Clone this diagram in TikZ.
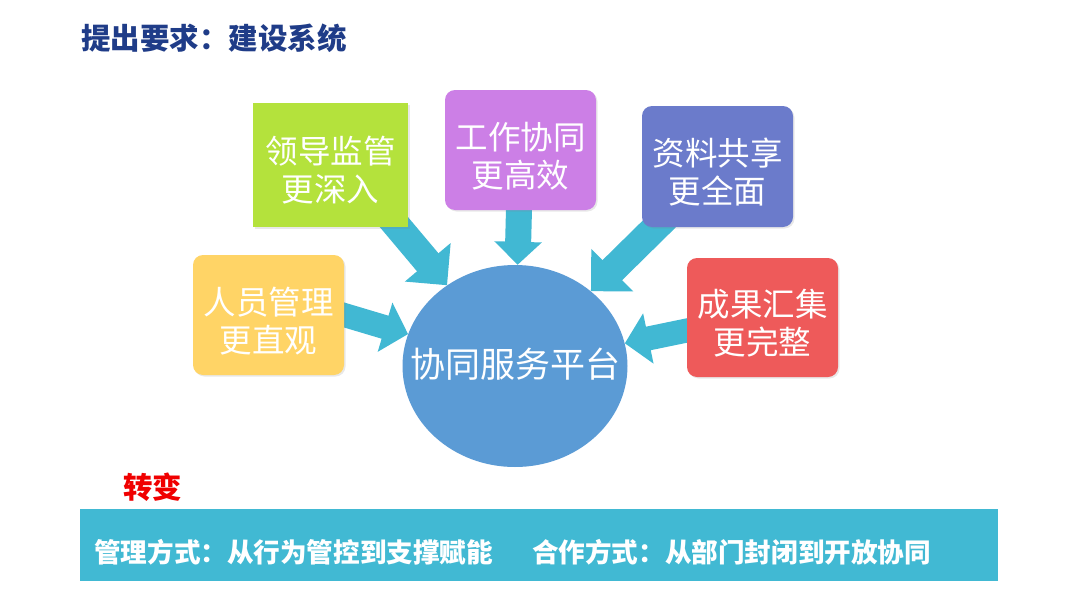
\documentclass[tikz,border=0pt]{standalone}
\usepackage{fontspec}
\setmainfont{Noto Sans CJK SC}
\usetikzlibrary{arrows.meta,shadows,shapes.geometric,backgrounds}
\definecolor{titleblue}{HTML}{1F3C88}
\definecolor{boxgreen}{HTML}{B4E23C}
\definecolor{boxpurple}{HTML}{CC7FE6}
\definecolor{boxviolet}{HTML}{6B7BCB}
\definecolor{boxyellow}{HTML}{FFD466}
\definecolor{boxred}{HTML}{EE5A5A}
\definecolor{hubblue}{HTML}{5B9BD5}
\definecolor{arrowcyan}{HTML}{41B8D3}
\definecolor{bandcyan}{HTML}{41B9D3}
\definecolor{redtext}{HTML}{F00000}
\tikzset{
  goalbox/.style={draw=none, inner sep=0pt,
    minimum width=151pt, minimum height=120pt,
    drop shadow={shadow xshift=1.5pt, shadow yshift=-1.5pt, opacity=0.18}},
  roundbox/.style={goalbox, rounded corners=10pt},
  boxtext/.style={inner sep=0pt, text=white, align=center,
    font=\fontsize{32.5}{38}\selectfont},
  bigarrow/.style={draw=arrowcyan, shorten <=-14pt},
  diagarrow/.style={bigarrow, line width=28pt, -{Triangle[width=58pt,length=30pt]}},
  sidearrow/.style={bigarrow, line width=24pt, -{Triangle[width=50pt,length=24pt]}},
  downarrow/.style={bigarrow, line width=26pt, -{Triangle[width=46pt,length=23pt]}},
}
\begin{document}
\begin{tikzpicture}[x=1pt,y=-1pt]
\useasboundingbox (0,0) rectangle (1080,608);

\node[anchor=west, inner sep=0pt, text=titleblue, font=\fontsize{29.5}{34}\selectfont\bfseries] (title) at (81,38) {提出要求：建设系统};

\node[goalbox, fill=boxgreen, minimum width=155pt, minimum height=124pt] (green) at (330.5,165) {};
\node[roundbox, fill=boxpurple] (purple) at (520.5,150) {};
\node[roundbox, fill=boxviolet, minimum height=121pt] (violet) at (717.5,166.5) {};
\node[roundbox, fill=boxyellow] (yellow) at (268.5,315) {};
\node[roundbox, fill=boxred, minimum height=119pt] (red) at (762.5,317.5) {};

\node[boxtext] (greentext) at ([yshift=-5pt]green.center) {领导监管\\更深入};
\node[boxtext] (purpletext) at ([yshift=-6pt]purple.center) {工作协同\\更高效};
\node[boxtext] (violettext) at ([yshift=-6pt]violet.center) {资料共享\\更全面};
\node[boxtext] (yellowtext) at ([yshift=-6pt]yellow.center) {人员管理\\更直观};
\node[boxtext] (redtext) at ([yshift=-6pt]red.center) {成果汇集\\更完整};

\node[ellipse, fill=hubblue, inner sep=0pt, minimum width=225pt, minimum height=202pt] (hub) at (515,366) {};
\node[inner sep=0pt, text=white, font=\fontsize{35}{40}\selectfont] (hubtext) at ([yshift=2pt]hub.center) {协同服务平台};

\begin{scope}[on background layer]
\fill[white] (0,0) rectangle (1080,608);
\draw[diagarrow] ([xshift=-10pt]green.south east) -- (hub);
\draw[downarrow] (purple) -- (hub);
\draw[diagarrow] (violet) -- (hub);
\draw[sidearrow] (yellow.east) -- (hub);
\draw[sidearrow] ([yshift=-13pt]red.west) -- (hub);
\end{scope}

\node[anchor=west, inner sep=0pt, text=redtext, font=\fontsize{29.5}{34}\selectfont\bfseries] (change) at (123,487) {转变};

\node[anchor=north west, fill=bandcyan, inner sep=0pt, minimum width=918pt, minimum height=72pt] (band) at (80,509) {};
\node[anchor=west, inner sep=0pt, text=white, font=\fontsize{26.6}{31}\selectfont\bfseries] (bandtext) at (94,552) {管理方式：从行为管控到支撑赋能\hspace{39pt}合作方式：从部门封闭到开放协同};
\end{tikzpicture}
\end{document}
